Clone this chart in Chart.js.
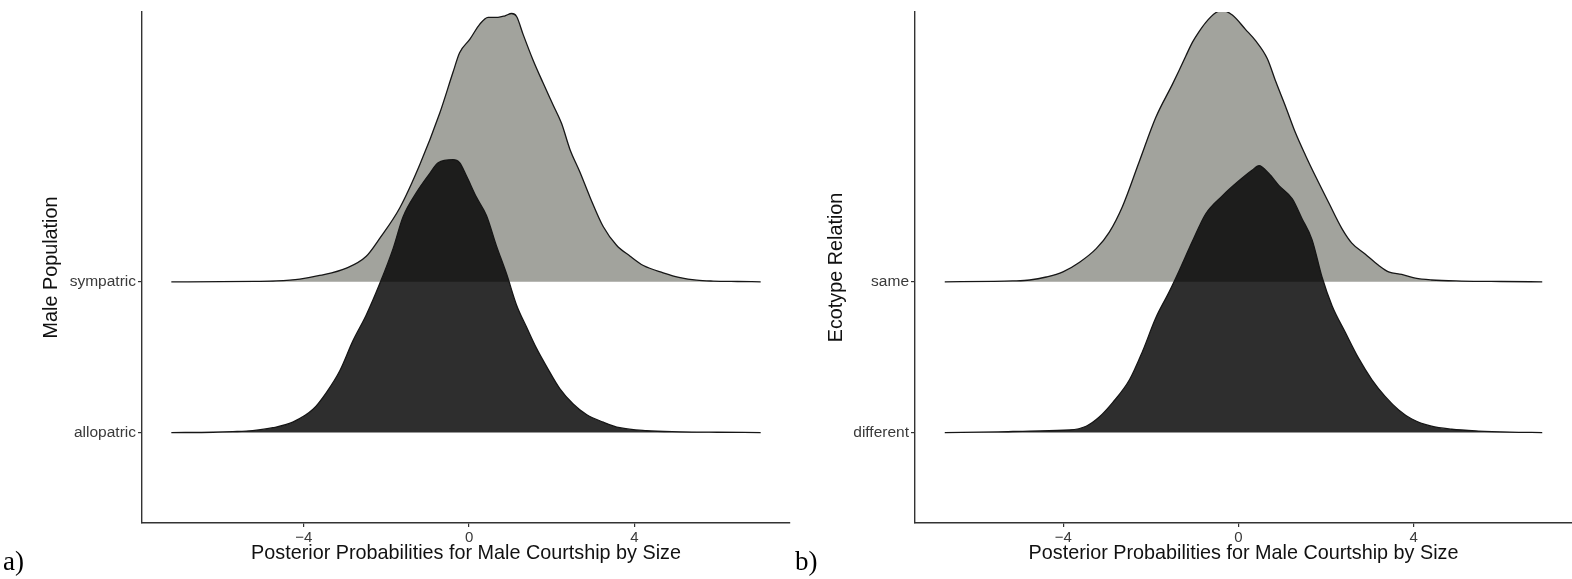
<!DOCTYPE html>
<html>
<head>
<meta charset="utf-8">
<script src="https://cdn.jsdelivr.net/npm/chart.js@4/dist/chart.umd.min.js"></script>
<style>
  html, body { margin: 0; padding: 0; background: #fff; width: 1572px; height: 579px; overflow: hidden; }
  .panel { position: absolute; top: 0; height: 579px; }
  #wrapA { left: 0; width: 792px; }
  #wrapB { left: 792px; width: 780px; }
  .tag { position: absolute; font-family: 'Liberation Serif', 'Times New Roman', serif; font-size: 27px; color: #000; line-height: 1; }
</style>
</head>
<body>
<div class="panel" id="wrapA"><canvas id="chartA" width="792" height="579"></canvas></div>
<div class="panel" id="wrapB"><canvas id="chartB" width="780" height="579"></canvas></div>
<div class="tag" style="left:3px; top:548px;">a)</div>
<div class="tag" style="left:795px; top:548px;">b)</div>
<script>
// Ridge categories (bottom to top) and x tick values
const ridgeLabelsA = ['allopatric', 'sympatric'];
const ridgeLabelsB = ['different', 'same'];
const xTickValues = [-4, 0, 4];

// Panel a: posterior density of male courtship-by-size effect, by male population
const sympatricX = [-7.21, -6.0, -5.2, -4.67, -4.1, -3.62, -2.97, -2.49, -2.16, -1.68, -1.19, -0.71, -0.39, -0.23, 0.02, 0.26, 0.46, 0.70, 0.87, 1.03, 1.15, 1.31, 1.55, 1.79, 2.04, 2.24, 2.44, 2.68, 2.93, 3.25, 3.57, 3.90, 4.22, 4.70, 5.11, 5.51, 5.91, 6.5, 7.06];
const sympatricDensity = [0, 0.001, 0.003, 0.006, 0.018, 0.042, 0.091, 0.17, 0.29, 0.49, 0.78, 1.12, 1.39, 1.52, 1.61, 1.71, 1.755, 1.755, 1.765, 1.78, 1.76, 1.64, 1.47, 1.32, 1.17, 1.05, 0.88, 0.73, 0.56, 0.365, 0.243, 0.17, 0.108, 0.06, 0.028, 0.011, 0.005, 0.002, 0];

const allopatricX = [-7.21, -6.2, -5.72, -5.24, -4.75, -4.27, -3.78, -3.46, -3.13, -2.81, -2.49, -2.16, -1.84, -1.60, -1.28, -0.95, -0.75, -0.39, -0.23, -0.06, 0.18, 0.42, 0.66, 0.91, 1.15, 1.39, 1.63, 1.88, 2.20, 2.52, 2.85, 3.25, 3.65, 4.30, 5.1, 6.0, 7.06];
const allopatricDensity = [0, 0.002, 0.006, 0.013, 0.032, 0.069, 0.154, 0.264, 0.41, 0.61, 0.78, 0.99, 1.22, 1.43, 1.59, 1.72, 1.79, 1.81, 1.79, 1.70, 1.56, 1.44, 1.24, 1.05, 0.845, 0.70, 0.56, 0.436, 0.29, 0.19, 0.118, 0.069, 0.032, 0.012, 0.005, 0.002, 0];

// Panel b: same posterior, by ecotype relation
const sameX = [-6.71, -5.6, -5.16, -4.77, -4.39, -4.01, -3.63, -3.25, -2.95, -2.65, -2.27, -1.89, -1.51, -1.36, -1.20, -1.05, -0.90, -0.75, -0.52, -0.37, -0.14, 0.16, 0.39, 0.66, 0.85, 1.08, 1.30, 1.53, 1.76, 2.06, 2.36, 2.59, 2.90, 3.20, 3.43, 3.73, 4.04, 4.41, 5.10, 6.0, 6.94];
const sameDensity = [0, 0.003, 0.006, 0.012, 0.032, 0.066, 0.13, 0.22, 0.33, 0.50, 0.795, 1.09, 1.31, 1.40, 1.50, 1.59, 1.66, 1.72, 1.785, 1.80, 1.77, 1.675, 1.60, 1.48, 1.33, 1.16, 0.99, 0.84, 0.70, 0.526, 0.355, 0.257, 0.183, 0.11, 0.066, 0.049, 0.024, 0.012, 0.005, 0.002, 0];

const differentX = [-6.71, -5.5, -4.77, -3.86, -3.48, -3.18, -2.87, -2.49, -2.19, -1.89, -1.58, -1.36, -1.05, -0.75, -0.37, 0.01, 0.31, 0.47, 0.69, 0.92, 1.23, 1.45, 1.68, 1.91, 2.14, 2.44, 2.74, 3.05, 3.35, 3.66, 3.96, 4.41, 4.87, 5.48, 6.2, 6.94];
const differentDensity = [0, 0.004, 0.01, 0.017, 0.042, 0.103, 0.20, 0.35, 0.54, 0.76, 0.935, 1.07, 1.27, 1.45, 1.57, 1.67, 1.74, 1.77, 1.72, 1.64, 1.55, 1.42, 1.28, 1.03, 0.84, 0.665, 0.495, 0.35, 0.24, 0.15, 0.09, 0.042, 0.022, 0.01, 0.003, 0];

const FONT = "'Liberation Sans', Arial, Helvetica, sans-serif";
const UPPER_FILL = '#a2a39d';
const LOWER_FILL = 'rgba(0,0,0,0.82)';
const OUTLINE = '#161616';
const AXIS = '#333333';

function ridge(xs, ds, base) {
  return xs.map((x, i) => ({ x: x, y: base + ds[i] }));
}

function ridgeDataset(xs, ds, base, fillColor) {
  return {
    data: ridge(xs, ds, base),
    borderColor: OUTLINE,
    borderWidth: 1.3,
    backgroundColor: fillColor,
    fill: { value: base },
    pointRadius: 0,
    cubicInterpolationMode: 'monotone'
  };
}

function minusLabel(v) {
  return v < 0 ? '\u2212' + Math.abs(v) : String(v);
}

function buildPanel(canvasId, p) {
  new Chart(document.getElementById(canvasId), {
    type: 'line',
    data: {
      datasets: [
        ridgeDataset(p.lowerX, p.lowerD, 0, LOWER_FILL),
        ridgeDataset(p.upperX, p.upperD, 1, UPPER_FILL)
      ]
    },
    options: {
      responsive: false,
      animation: false,
      devicePixelRatio: 1,
      layout: { padding: { top: 12, right: p.rightPad, bottom: 0, left: 0 } },
      plugins: { legend: { display: false }, tooltip: { enabled: false } },
      scales: {
        x: {
          type: 'linear',
          min: p.xMin,
          max: p.xMax,
          afterBuildTicks: (s) => { s.ticks = xTickValues.map(v => ({ value: v })); },
          afterFit: (s) => { s.height = 56; },
          ticks: { autoSkip: false, maxRotation: 0, padding: 2, color: '#3a3a3a', font: { family: FONT, size: 15 }, callback: (v) => minusLabel(v) },
          grid: { display: true, drawOnChartArea: false, drawTicks: true, tickLength: 4, color: AXIS, lineWidth: 1.2 },
          border: { display: true, color: AXIS, width: 1.4 },
          title: { display: true, text: 'Posterior Probabilities for Male Courtship by Size', color: '#111', font: { family: FONT, size: 19.8 }, padding: { top: 0, bottom: 14 } }
        },
        y: {
          type: 'linear',
          min: -0.6,
          max: 2.79,
          afterBuildTicks: (s) => { s.ticks = [{ value: 0 }, { value: 1 }]; },
          afterFit: (s) => { s.width = p.yWidth; },
          ticks: { autoSkip: false, padding: 2, color: '#3a3a3a', font: { family: FONT, size: 15.5 }, callback: (v) => p.labels[v] },
          grid: { display: true, drawOnChartArea: false, drawTicks: true, tickLength: 4, color: AXIS, lineWidth: 1.2 },
          border: { display: true, color: AXIS, width: 1.4 },
          title: { display: true, text: p.yTitle, color: '#111', font: { family: FONT, size: 19.8 }, padding: { top: p.yTitlePad, bottom: 0 } }
        }
      }
    }
  });
}

buildPanel('chartA', {
  lowerX: allopatricX, lowerD: allopatricDensity,
  upperX: sympatricX, upperD: sympatricDensity,
  labels: ridgeLabelsA, yTitle: 'Male Population',
  xMin: -7.92, xMax: 7.77, yWidth: 142, rightPad: 2, yTitlePad: 40
});

buildPanel('chartB', {
  lowerX: differentX, lowerD: differentDensity,
  upperX: sameX, upperD: sameDensity,
  labels: ridgeLabelsB, yTitle: 'Ecotype Relation',
  xMin: -7.39, xMax: 7.62, yWidth: 123, rightPad: 0, yTitlePad: 33
});
</script>
</body>
</html>
